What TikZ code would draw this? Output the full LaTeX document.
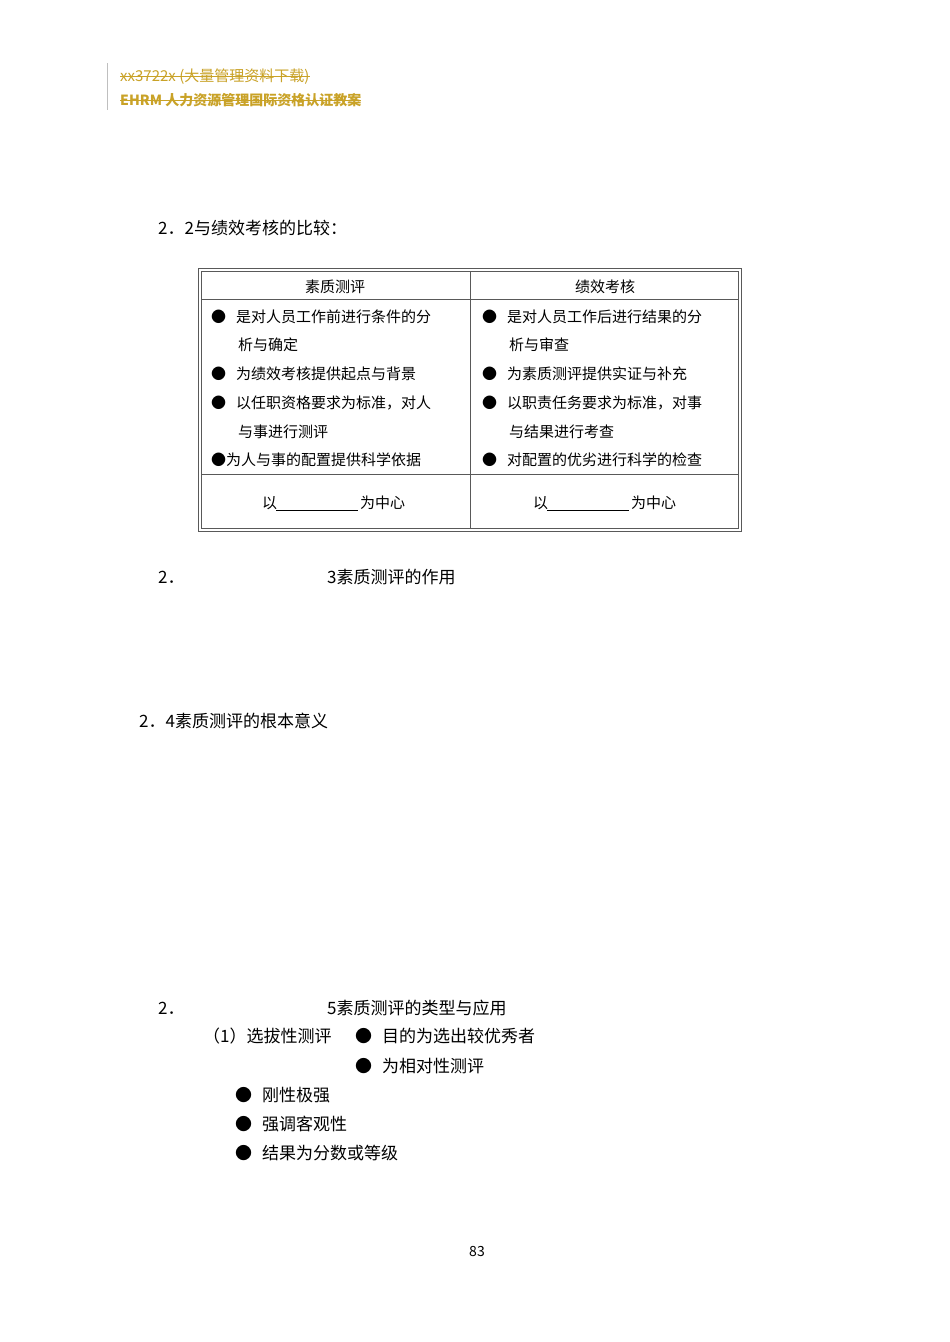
\documentclass[tikz,border=0pt]{standalone}
\usepackage{fontspec}
\setmainfont{Noto Sans CJK SC}
\begin{document}
\begin{tikzpicture}[x=1pt,y=-1pt,
 t/.style={anchor=base west,inner sep=0pt,font=\fontsize{15}{15}\selectfont},
 b/.style={anchor=base west,inner sep=0pt,font=\fontsize{17}{17}\selectfont},
 hd/.style={anchor=base west,inner sep=0pt,text=gold,font=\fontsize{15}{15}\selectfont}]
\definecolor{gold}{HTML}{C9A227}
\useasboundingbox[fill=white] (0,0) rectangle (950,1342);
\draw[gray!50,line width=1pt] (107,63) -- (107,110);
\node[hd] (h1) at (120,81) {xx3722x (大量管理资料下载)};
\node[hd,font=\bfseries\fontsize{14}{14}\selectfont] (h2) at (120,105) {EHRM 人力资源管理国际资格认证教案};
\draw[gold] (h1.west |- 0,76) -- (h1.east |- 0,76);
\draw[gold] (h2.west |- 0,100) -- (h2.east |- 0,100);
\node[b] (s22) at (158,234) {2．2与绩效考核的比较：};
% table
\draw[gray!70!black,line width=1pt] (198,268) rectangle (741,531);
\draw[gray!70!black,line width=0.6pt] (201,271) rectangle (738,528);
\draw[gray!70!black,line width=0.6pt] (470,271) -- (470,528);
\draw[gray!70!black,line width=0.6pt] (201,299) -- (738,299);
\draw[gray!70!black,line width=0.6pt] (201,474) -- (738,474);
\node[t,anchor=base] (c1) at (335,292) {素质测评};
\node[t,anchor=base] (c2) at (605,292) {绩效考核};
\node[t] (l1) at (211,322) {●\hspace{10pt}是对人员工作前进行条件的分};
\node[t] (l2) at (238,350) {析与确定};
\node[t] (l3) at (211,379) {●\hspace{10pt}为绩效考核提供起点与背景};
\node[t] (l4) at (211,408) {●\hspace{10pt}以任职资格要求为标准，对人};
\node[t] (l5) at (238,437) {与事进行测评};
\node[t] (l6) at (211,465) {●为人与事的配置提供科学依据};
\node[t] (r1) at (482,322) {●\hspace{10pt}是对人员工作后进行结果的分};
\node[t] (r2) at (509,350) {析与审查};
\node[t] (r3) at (482,379) {●\hspace{10pt}为素质测评提供实证与补充};
\node[t] (r4) at (482,408) {●\hspace{10pt}以职责任务要求为标准，对事};
\node[t] (r5) at (509,437) {与结果进行考查};
\node[t] (r6) at (482,465) {●\hspace{10pt}对配置的优劣进行科学的检查};
\node[t] (f1) at (262,508) {以};
\draw (276,510) -- (358,510);
\node[t] (f2) at (360,508) {为中心};
\node[t] (f3) at (533,508) {以};
\draw (547,510) -- (629,510);
\node[t] (f4) at (631,508) {为中心};
% lower
\node[b] (a1) at (158,583) {2．};
\node[b] (a2) at (327,583) {3素质测评的作用};
\node[b] (a3) at (139,727) {2．4素质测评的根本意义};
\node[b] (a4) at (158,1014) {2．};
\node[b] (a5) at (327,1014) {5素质测评的类型与应用};
\node[b] (a6) at (203,1042) {（1）选拔性测评};
\node[b] (a7) at (355,1042) {●\hspace{10pt}目的为选出较优秀者};
\node[b] (a8) at (355,1072) {●\hspace{10pt}为相对性测评};
\node[b] (a9) at (235,1101) {●\hspace{10pt}刚性极强};
\node[b] (a10) at (235,1130) {●\hspace{10pt}强调客观性};
\node[b] (a11) at (235,1159) {●\hspace{10pt}结果为分数或等级};
\node[t,anchor=base,font=\fontsize{14}{14}\selectfont] (pg) at (477,1256) {83};
\end{tikzpicture}
\end{document}
